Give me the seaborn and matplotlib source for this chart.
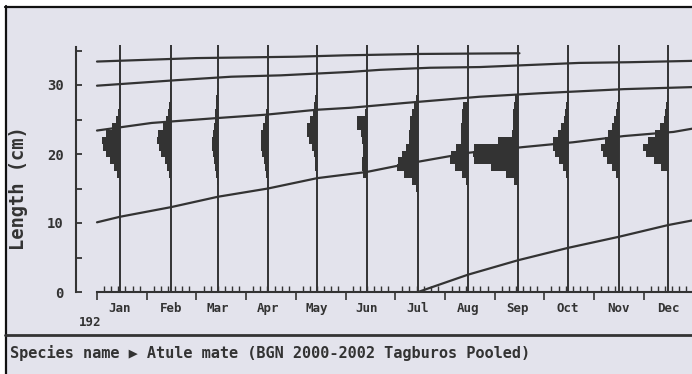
import numpy as np
import pandas as pd
import matplotlib
matplotlib.use("Agg")
import matplotlib.pyplot as plt
from matplotlib.patches import Rectangle
from matplotlib.lines import Line2D
from matplotlib.ticker import FixedLocator
import seaborn as sns

# ---------------- data ----------------
months = ["Jan", "Feb", "Mar", "Apr", "May", "Jun",
          "Jul", "Aug", "Sep", "Oct", "Nov", "Dec"]
# sampling dates (in months from 1 Jan)
sample_pos = [0.46, 1.49, 2.43, 3.44, 4.43, 5.43,
              6.46, 7.46, 8.47, 9.48, 10.50, 11.49]

# length-frequency samples: first length class (cm) and frequencies
jan_start, jan_freq = 17, [3, 6, 10, 14, 17, 18, 14, 8, 4, 2, 1]
feb_start, feb_freq = 17, [2, 4, 6, 10, 12, 14, 13, 8, 5, 3, 2, 1, 1]
mar_start, mar_freq = 16, [1, 2, 3, 4, 5, 6, 6, 5, 4, 3, 3, 2, 2, 1]
apr_start, apr_freq = 17, [2, 3, 4, 6, 7, 7, 7, 5, 3, 2]
may_start, may_freq = 17, [1, 2, 2, 3, 5, 8, 10, 10, 7, 4, 3, 2, 1]
jun_start, jun_freq = 17, [4, 5, 5, 4, 4, 5, 6, 10, 10, 2]
jul_start, jul_freq = 15, [2, 6, 14, 21, 20, 16, 12, 9, 9, 8, 8, 6, 4, 2]
aug_start, aug_freq = 16, [2, 6, 13, 18, 17, 12, 7, 7, 7, 6, 6, 5]
sep_start, sep_freq = 16, [4, 12, 27, 44, 45, 44, 20, 6, 5, 5, 5, 4, 3]
oct_start, oct_freq = 17, [2, 5, 9, 13, 15, 15, 10, 7, 4, 3, 2, 1]
nov_start, nov_freq = 17, [3, 7, 12, 16, 18, 14, 11, 7, 5, 3, 2, 1]
dec_start, dec_freq = 18, [7, 14, 22, 25, 20, 13, 8, 4, 3, 2, 1]

hist_starts = [jan_start, feb_start, mar_start, apr_start, may_start, jun_start,
               jul_start, aug_start, sep_start, oct_start, nov_start, dec_start]
hist_freqs = [jan_freq, feb_freq, mar_freq, apr_freq, may_freq, jun_freq,
              jul_freq, aug_freq, sep_freq, oct_freq, nov_freq, dec_freq]

# growth curves (month, length cm)
c1_x = [0, 2.0, 4.0, 5.0, 6.5, 8.5]
c1_y = [33.4, 33.9, 34.1, 34.3, 34.5, 34.6]
c2_x = [0, 1.6, 2.7, 3.7, 5.1, 5.7, 6.7, 7.7, 8.7, 9.7, 10.7, 12.0]
c2_y = [29.9, 30.7, 31.2, 31.4, 31.9, 32.2, 32.5, 32.6, 32.9, 33.2, 33.3, 33.5]
c3_x = [0, 1.1, 2.4, 3.4, 4.4, 5.1, 6.2, 7.7, 8.9, 10.6, 12.0]
c3_y = [23.4, 24.5, 25.2, 25.7, 26.4, 26.7, 27.4, 28.3, 28.8, 29.4, 29.7]
c4_x = [0, 0.46, 1.49, 2.43, 3.44, 4.43, 5.43, 6.4, 7.5, 8.57, 9.58, 10.6, 11.6, 12.0]
c4_y = [10.1, 10.9, 12.3, 13.8, 15.0, 16.5, 17.4, 18.8, 20.2, 21.0, 21.7, 22.6, 23.2, 23.7]
c5_x = [6.46, 7.46, 8.47, 9.48, 10.5, 11.49, 12.0]
c5_y = [0, 2.5, 4.6, 6.4, 8.0, 9.7, 10.4]

y_ticks = [0, 10, 20, 30]
year_label = "192"
ylabel = "Length (cm)"
caption = "Species name \u25B6 Atule mate (BGN 2000-2002 Tagburos Pooled)"

# ---------------- style ----------------
W, H = 692, 374
bg = "#e3e3ec"
ink = "#333333"
sns.set_theme(style="white")
plt.rcParams["font.family"] = ["DejaVu Sans Mono", "DejaVu Sans"]

fig = plt.figure(figsize=(W / 100, H / 100), dpi=100, facecolor=bg)

ax_left, ax_right, ax_bottom, ax_top = 76, 692, 292, 40
ax = fig.add_axes([ax_left / W, (H - ax_bottom) / H,
                   (ax_right - ax_left) / W, (ax_bottom - ax_top) / H])
ax.set_facecolor("none")

px_per_month = 49.7
px_per_cm = 6.9
ax.set_xlim(-(97 - ax_left) / px_per_month, (ax_right - 97) / px_per_month)
ax.set_ylim(0, (ax_bottom - ax_top) / px_per_cm)

# sampling lines
ax.vlines(sample_pos, 0, 35.8, color=ink, lw=1.4, zorder=2)

# histograms, bars extend to the left of each sample line
scale = 1.0 / px_per_month
for pos, start, freq in zip(sample_pos, hist_starts, hist_freqs):
    lengths = np.arange(start, start + len(freq))
    w = np.array(freq) * scale
    ax.barh(lengths, w, left=pos - w, height=1.0, color=ink,
            linewidth=0, zorder=3)

# growth curves
frames = []
for i, (xs, ys) in enumerate([(c1_x, c1_y), (c2_x, c2_y), (c3_x, c3_y),
                              (c4_x, c4_y), (c5_x, c5_y)]):
    frames.append(pd.DataFrame({"month": xs, "length": ys, "cohort": i}))
curves = pd.concat(frames, ignore_index=True)
sns.lineplot(data=curves, x="month", y="length", units="cohort",
             estimator=None, sort=False, color=ink, lw=1.6,
             legend=False, ax=ax, zorder=4)
for line in ax.get_lines():
    line.set_clip_on(True)

# axes / spines
for s in ["top", "right"]:
    ax.spines[s].set_visible(False)
ax.spines["left"].set_bounds(0, 35.5)
ax.spines["bottom"].set_bounds(0, (ax_right - 97) / px_per_month)
for s in ["left", "bottom"]:
    ax.spines[s].set_color(ink)
    ax.spines[s].set_linewidth(1.5)

ax.yaxis.set_major_locator(FixedLocator(y_ticks))
ax.yaxis.set_minor_locator(FixedLocator([5, 15, 25, 35]))
ax.set_yticklabels([str(v) for v in y_ticks])
ax.tick_params(axis="y", which="both", direction="in", length=4, width=1.3,
               color=ink, pad=9, left=True, labelsize=10, labelcolor=ink)
for t in ax.get_yticklabels():
    t.set_fontweight("bold")

ax.xaxis.set_major_locator(FixedLocator(list(range(0, 13))))
ax.xaxis.set_minor_locator(FixedLocator(list(np.arange(0, 12, 1 / 7))))
ax.set_xticklabels([])
ax.tick_params(axis="x", which="major", direction="out", length=6, width=1.2,
               color=ink, bottom=True)
ax.tick_params(axis="x", which="minor", direction="in", length=4, width=1.0,
               color=ink, bottom=True)
ax.set_xlabel("")
ax.set_ylabel("")

sec = ax.secondary_xaxis("bottom")
sec.set_xticks(sample_pos)
sec.set_xticklabels(months)
sec.tick_params(length=0, pad=7, labelsize=9, labelcolor=ink)
for t in sec.get_xticklabels():
    t.set_fontweight("bold")
sec.spines["bottom"].set_visible(False)

# texts
fig.text(19 / W, 1 - 188 / H, ylabel, rotation=90, ha="center", va="center",
         fontsize=13.5, fontweight="bold", color=ink)
fig.text(90 / W, 1 - 323 / H, year_label, ha="center", va="center",
         fontsize=9, fontweight="bold", color=ink)
fig.text(10 / W, 1 - 353 / H, caption, ha="left", va="center",
         fontsize=11, color=ink, fontweight="bold")

# frame decorations
fig.patches.append(Rectangle((0, 1 - 6 / H), 1, 6 / H, transform=fig.transFigure,
                             color="white", zorder=0))
fig.patches.append(Rectangle((0, 0), 5 / W, 1, transform=fig.transFigure,
                             color="white", zorder=0))
fig.lines.append(Line2D([5 / W, 1], [1 - 7 / H, 1 - 7 / H],
                        transform=fig.transFigure, color="#111111", lw=1.6))
fig.lines.append(Line2D([5.8 / W, 5.8 / W], [0, 1 - 6 / H],
                        transform=fig.transFigure, color="#111111", lw=1.6))
fig.lines.append(Line2D([5 / W, 1], [1 - 335 / H, 1 - 335 / H],
                        transform=fig.transFigure, color=ink, lw=2.0))

fig.savefig("out.png", dpi=100, facecolor=bg)
